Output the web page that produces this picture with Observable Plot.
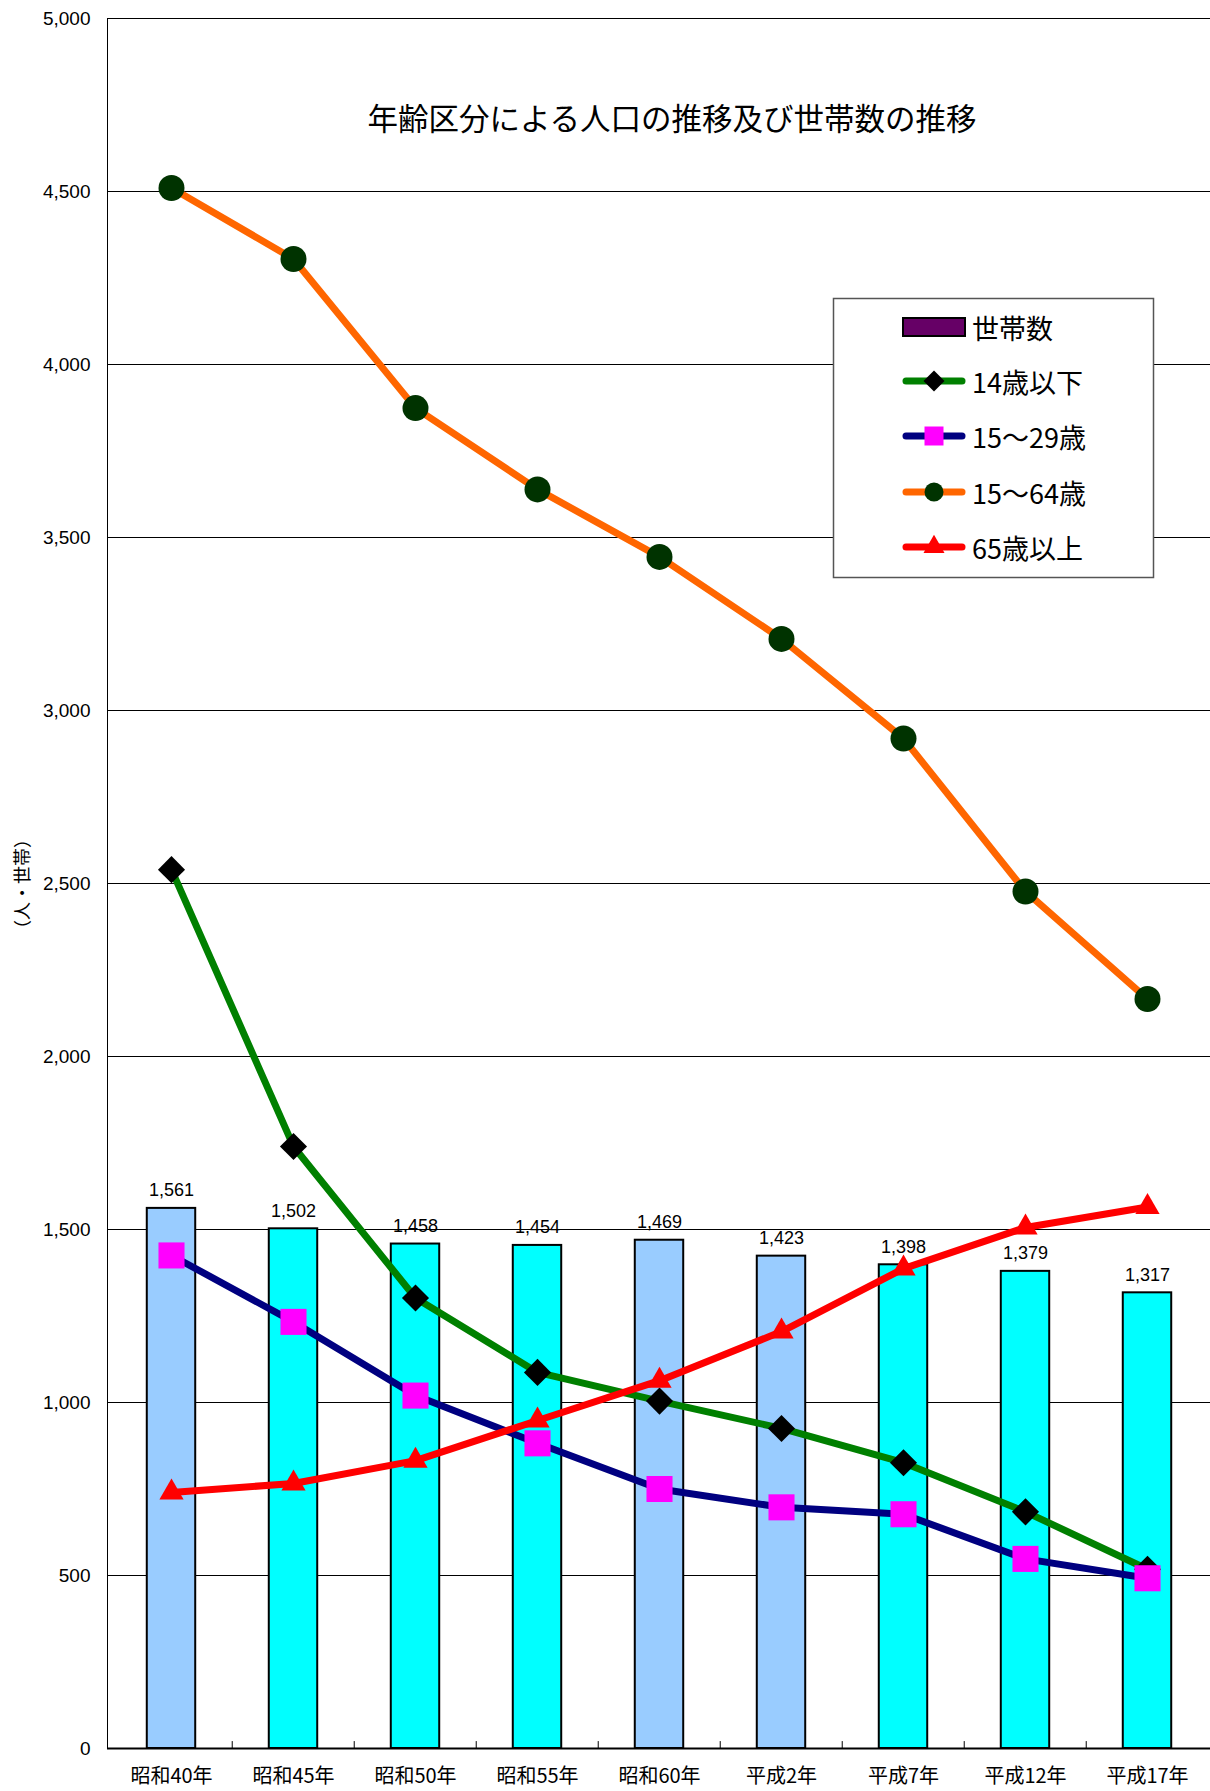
<!DOCTYPE html>
<html><head><meta charset="utf-8">
<script src="https://cdn.jsdelivr.net/npm/d3@7"></script>
<script src="https://cdn.jsdelivr.net/npm/@observablehq/plot@0.6"></script>
<style>
html,body{margin:0;padding:0;background:#fff;}
#chart{width:1210px;height:1791px;overflow:hidden;}
svg{display:block;}
</style></head><body><div id="chart"></div>
<script>
const categories = ["昭和40年","昭和45年","昭和50年","昭和55年","昭和60年","平成2年","平成7年","平成12年","平成17年"];
const households = [1561,1502,1458,1454,1469,1423,1398,1379,1317];
const age0to14  = [2540,1740,1302,1087,1004,925,826,684,518];
const age15to29 = [1425,1233,1020,882,750,697,677,548,492];
const age15to64 = [4510,4305,3874,3639,3444,3207,2919,2477,2166];
const age65plus = [740,766,832,948,1063,1205,1387,1506,1565];
const yTicks = [0,500,1000,1500,2000,2500,3000,3500,4000,4500,5000];
const seriesNames = ["世帯数","14歳以下","15〜29歳","15〜64歳","65歳以上"];
const titleText = "年齢区分による人口の推移及び世帯数の推移";
const yLabelText = "（人・世帯）";

// styles
const W = 1210, H = 1791, mL = 107, mR = 0, mT = 18, mB = 43;
const step = (W - mL - mR) / categories.length;
const barWidth = 49;
const inset = (step - barWidth) / 2;
const lightCats = new Set(["昭和40年","昭和60年","平成2年"]);
const jp = "'Noto Sans CJK JP', 'Noto Sans', sans-serif";
const num = "'Liberation Sans', Arial, sans-serif";

const barData = categories.map((c, i) => ({cat: c, value: households[i]}));
const lineDefs = [
  {name: seriesNames[1], values: age0to14,  stroke: "#008000", symbol: "diamond2", fill: "#000000", r: 12.2, lsym: d3.symbolDiamond2, lsize: 281},
  {name: seriesNames[2], values: age15to29, stroke: "#000080", symbol: "square",   fill: "#FF00FF", r: 14.7, lsym: d3.symbolSquare, lsize: 361},
  {name: seriesNames[3], values: age15to64, stroke: "#FF6600", symbol: "circle",   fill: "#003300", r: 13,   lsym: d3.symbolCircle, lsize: 283},
  {name: seriesNames[4], values: age65plus, stroke: "#FF0000", symbol: "triangle", fill: "#FF0000", r: 9,    lsym: d3.symbolTriangle, lsize: 191}
];

const lineMarks = lineDefs.flatMap(s => {
  const data = categories.map((c, i) => ({cat: c, value: s.values[i]}));
  return [
    Plot.line(data, {x: "cat", y: "value", stroke: s.stroke, strokeWidth: 7, strokeLinejoin: "round", strokeLinecap: "round"}),
    Plot.dot(data, {x: "cat", y: "value", symbol: s.symbol, fill: s.fill, r: s.r, stroke: "none"})
  ];
});

const svgNode = Plot.plot({
  width: W, height: H,
  marginLeft: mL, marginRight: mR, marginTop: mT, marginBottom: mB,
  style: {background: "#fff", fontFamily: jp},
  x: {type: "band", domain: categories, padding: 0, axis: null},
  y: {domain: [0, 5000], axis: null},
  marks: [
    Plot.gridY(yTicks, {stroke: "#000", strokeOpacity: 1, strokeWidth: 1}),
    Plot.frame({stroke: "#000"}),
    Plot.barY(barData, {x: "cat", y: "value", fill: d => lightCats.has(d.cat) ? "#99CCFF" : "#00FFFF", stroke: "#000", strokeWidth: 2, insetLeft: inset, insetRight: inset}),
    Plot.text(barData, {x: "cat", y: "value", text: d => d3.format(",")(d.value), lineAnchor: "bottom", dy: -12, fontSize: 18, fontFamily: num, fill: "#000"}),
    Plot.ruleY([0], {stroke: "#000", strokeWidth: 2}),
    Plot.ruleX(categories.slice(1), {x: d => d, y1: 0, y2: 20, dx: -step / 2, stroke: "#000", strokeWidth: 1}),
    ...lineMarks,
    Plot.axisY(yTicks, {tickSize: 0, tickPadding: 17, fontSize: 19, fontFamily: num, tickFormat: d3.format(","), label: null}),
    Plot.axisX({tickSize: 0, tickPadding: 20, fontSize: 20, fontFamily: jp, label: null})
  ]
});

document.getElementById("chart").appendChild(svgNode);
const svg = d3.select(svgNode);

// title
svg.append("text").attr("x", 672).attr("y", 117)
  .attr("text-anchor", "middle").attr("dominant-baseline", "central")
  .attr("font-family", jp).attr("font-size", 30.5).attr("fill", "#000").text(titleText);

// y label
svg.append("text").attr("transform", "translate(21,884) rotate(-90)")
  .attr("text-anchor", "middle").attr("dominant-baseline", "central")
  .attr("font-family", jp).attr("font-size", 18).attr("fill", "#000").text(yLabelText);

// legend
const lg = svg.append("g").attr("text-anchor", "start");
lg.append("rect").attr("x", 833.5).attr("y", 298.5).attr("width", 320).attr("height", 279)
  .attr("fill", "#fff").attr("stroke", "#555").attr("stroke-width", 1.5);
const rowsY = [327, 381, 436, 492, 547];
const sx1 = 903, sx2 = 965, sxc = 934, tx = 972;
lg.append("rect").attr("x", sx1).attr("y", rowsY[0] - 9).attr("width", sx2 - sx1).attr("height", 18)
  .attr("fill", "#660066").attr("stroke", "#000").attr("stroke-width", 2);
lg.append("text").attr("x", tx).attr("y", rowsY[0]).attr("dominant-baseline", "central").attr("text-anchor", "start")
  .attr("font-family", jp).attr("font-size", 27).attr("fill", "#000").text(seriesNames[0]);
lineDefs.forEach((s, i) => {
  const y = rowsY[i + 1];
  lg.append("line").attr("x1", sx1 + 3).attr("x2", sx2 - 3).attr("y1", y).attr("y2", y)
    .attr("stroke", s.stroke).attr("stroke-width", 7).attr("stroke-linecap", "round");
  lg.append("path").attr("transform", `translate(${sxc},${y})`)
    .attr("d", d3.symbol(s.lsym, s.lsize)()).attr("fill", s.fill);
  lg.append("text").attr("x", tx).attr("y", y).attr("dominant-baseline", "central").attr("text-anchor", "start")
    .attr("font-family", jp).attr("font-size", 27).attr("fill", "#000").text(s.name);
});
</script>
</body></html>
